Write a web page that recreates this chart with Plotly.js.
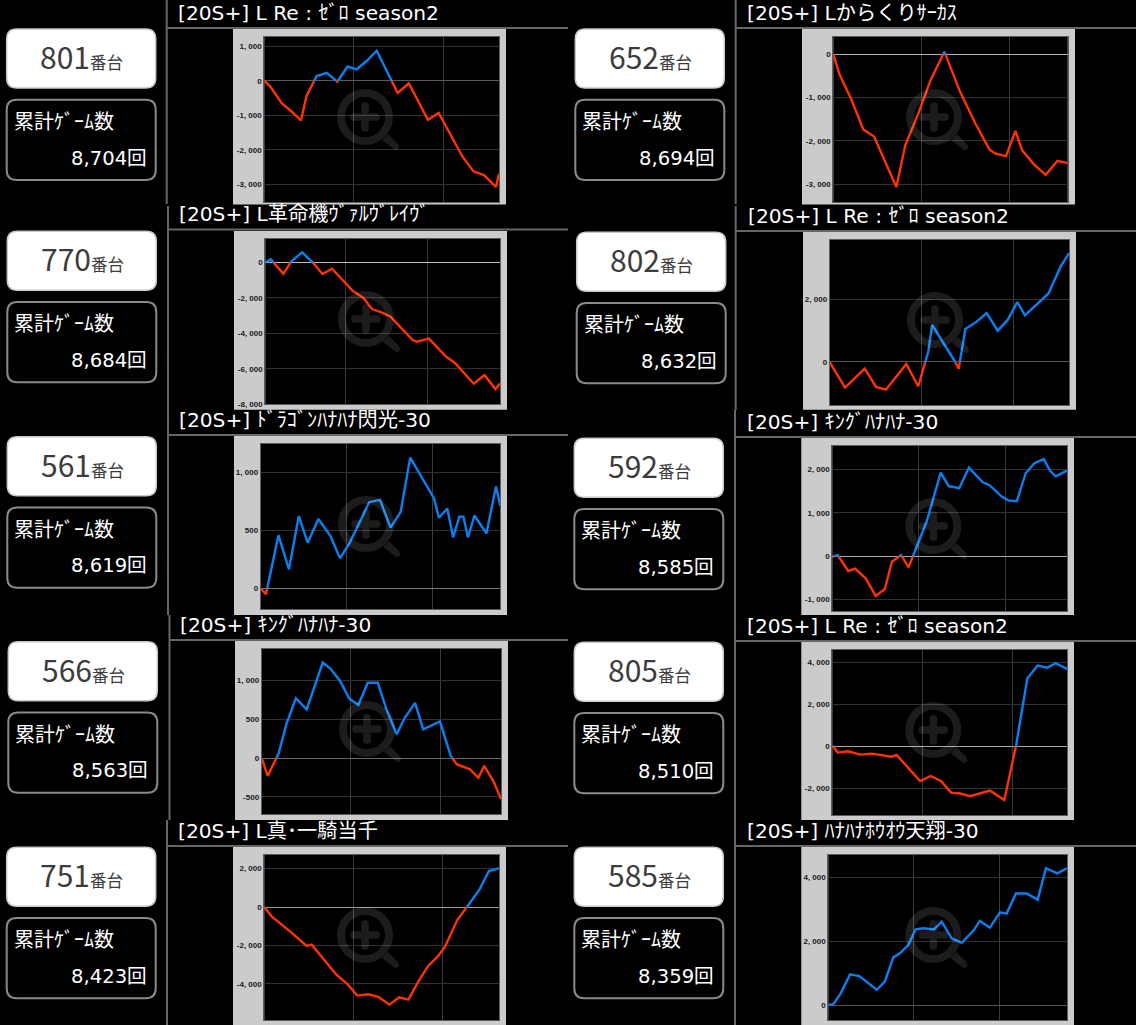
<!DOCTYPE html>
<html><head><meta charset="utf-8">
<script src="https://cdn.plot.ly/plotly-3.0.1.min.js"></script>
<style>html,body{margin:0;padding:0;background:#000;overflow:hidden}#c{width:1136px;height:1025px}</style>
</head><body><div id="c"></div>
<script>
const titles=["[20S+] L Re : ｾﾞﾛ season2","[20S+] Lからくりｻｰｶｽ","[20S+] L革命機ｳﾞｧﾙｳﾞﾚｲｳﾞ","[20S+] L Re : ｾﾞﾛ season2","[20S+] ﾄﾞﾗｺﾞﾝﾊﾅﾊﾅ閃光-30","[20S+] ｷﾝｸﾞﾊﾅﾊﾅ-30","[20S+] ｷﾝｸﾞﾊﾅﾊﾅ-30","[20S+] L Re : ｾﾞﾛ season2","[20S+] L真･一騎当千","[20S+] ﾊﾅﾊﾅﾎｳｵｳ天翔-30"];
const units=["801","652","770","802","561","592","566","805","751","585"];
const games=["8,704回","8,694回","8,684回","8,632回","8,619回","8,585回","8,563回","8,510回","8,423回","8,359回"];
const cardLabel="累計ｹﾞｰﾑ数", unitSuffix="番台";

// progress through the session (% of x axis) and cumulative difference
const x1=[0,2.8,7.4,11.6,15.6,18,22.3,26.6,31.1,35.5,39.3,43.6,47.9,56.8,61.6,69.7,74.3,84.4,89.1,93.6,98.7,100];
const y1=[0,-190,-650,-890,-1150,-440,135,230,-30,410,330,570,865,-350,-80,-1130,-930,-2190,-2620,-2730,-3070,-2690];
const x2=[0,2.6,7.8,12.8,17.4,26.9,30.7,36.3,41.5,47.4,54.1,60.6,66.6,69,73.7,77.7,80.5,85.6,90.6,95.6,100];
const y2=[0,-460,-1060,-1735,-1900,-3060,-2100,-1365,-600,55,-870,-1600,-2195,-2290,-2350,-1770,-2210,-2540,-2780,-2460,-2510];
const x3=[0,2.3,7.7,11.2,15.7,20.4,24.3,28.4,37.2,41.7,45.4,49.5,53.3,62.7,64.4,69.6,76.9,80.7,88.7,93.3,97.9,100];
const y3=[0,170,-640,75,560,-40,-660,-360,-1600,-2000,-2630,-2820,-3060,-4380,-4470,-4300,-5310,-5670,-6840,-6350,-7140,-6820];
const x4=[0,6.4,14.6,19.4,23.5,32,37,41.2,42.8,52.4,53.9,56.7,61.4,65.6,70.2,74.4,78.4,81.6,91.4,96.5,100];
const y4=[0,-825,-215,-800,-890,-65,-780,330,1190,10,-215,1060,1295,1570,1005,1350,1925,1500,2200,3060,3490];
const x5=[0,2.2,7.4,11.8,15.9,19.6,24.1,29.2,33.1,37.3,45.3,49.8,54.2,58.4,62.4,72.3,74.4,77.9,80.3,82.9,84.6,86.5,89.2,94.2,98.2,100];
const y5=[0,-50,460,165,625,395,600,450,260,400,745,765,525,660,1130,780,610,690,440,620,620,440,630,475,880,715];
const x6=[0,2.3,6.8,9.7,14.2,18.5,22.4,25.4,29.3,32.5,40.2,46.2,49.6,54.1,58.2,64.1,66.9,72.2,75,78.6,82.4,86.1,90.1,92.8,95.2,100];
const y6=[-10,25,-340,-285,-510,-915,-755,-125,25,-255,800,1930,1615,1570,2045,1705,1645,1375,1290,1270,1915,2145,2240,1970,1845,1975];
const x7=[0,2.5,7.1,10.4,14.3,18.8,25.5,28.6,32.7,36.6,40.4,44.3,48.5,52.2,56.4,59.9,64.1,67.5,74.5,79,81.5,87,90.5,93,97.1,100];
const y7=[0,-230,60,445,770,625,1230,1155,995,765,685,970,970,620,305,525,710,370,470,25,-80,-145,-255,-100,-315,-530];
const x8=[0,2.3,6.8,11.8,16.8,22.4,25.3,27.4,37.4,41.9,46.3,50.6,54.4,58.7,67.2,73.3,78.3,83.1,87.5,91.6,95.2,100];
const y8=[30,-300,-240,-400,-350,-460,-495,-415,-1660,-1420,-1660,-2215,-2260,-2390,-2120,-2565,30,3250,3860,3760,3970,3700];
const x9=[0,3.1,11.6,18,20.2,30.8,35.1,39.6,44.3,48.6,53.3,57.5,61.4,65.6,69.9,74.1,77,82.2,86.2,91.6,95.7,100];
const y9=[0,-485,-1335,-2025,-1955,-3530,-3965,-4605,-4535,-4675,-5075,-4690,-4815,-3880,-3050,-2545,-2060,-675,-20,885,1870,2010];
const x10=[0,2.1,5.2,9.1,13,20.3,23.7,27.2,30,33.5,36.6,39.8,44.3,47.5,51.7,55.9,61,63.5,67.7,71.9,74.7,78.6,83.1,87.7,91.2,95.9,100];
const y10=[0,30,365,965,910,480,735,1495,1625,1885,2375,2410,2375,2620,2095,1950,2355,2640,2430,2910,2870,3500,3500,3310,4295,4135,4295];

const xData=[x1,x2,x3,x4,x5,x6,x7,x8,x9,x10];
const yData=[y1,y2,y3,y4,y5,y6,y7,y8,y9,y10];

const yTicks=[[1000,0,-1000,-2000,-3000],[0,-1000,-2000,-3000],[0,-2000,-4000,-6000,-8000],[2000,0],[1000,500,0],[2000,1000,0,-1000],[1000,500,0,-500],[4000,2000,0,-2000],[2000,0,-2000,-4000],[4000,2000,0]];
const yLabels=[["1, 000","0","-1, 000","-2, 000","-3, 000"],["0","-1, 000","-2, 000","-3, 000"],["0","-2, 000","-4, 000","-6, 000","-8, 000"],["2, 000","0"],["1, 000","500","0"],["2, 000","1, 000","0","-1, 000"],["1, 000","500","0","-500"],["4, 000","2, 000","0","-2, 000"],["2, 000","0","-2, 000","-4, 000"],["4, 000","2, 000","0"]];
const yRanges=[[-3506,1272],[-3407,400],[-8000,1333],[-1390,3925],[-180,1250],[-1270,2550],[-725,1408],[-3300,4620],[-5890,2720],[-480,4720]];
const xGrid=[[38.1,76.3],[37.7,75.2],[34.2,68.9],[38.3,76.7],[35.9,71.6],[36.6,73.9],[37.2,74.8],[38.5,76.8],[37.9,76],[35.6,71.6]];
const zeroColors=["#5a5a5a","#b5b5b5","#bdbdbd","#555555","#7a7a7a","#a8a8a8","#666666","#a8a8a8","#999999","#555555"];

// page geometry (px): plot box, grey frame, card origin, rule and title positions
const plotBox=[[264.3,499,36.7,202],[833.3,1067.7,36.7,202],[265.3,500.3,238.7,404.3],[829.7,1069,239.7,405.3],[260.7,500.3,443.7,609.3],[832.3,1067,445.7,611.3],[261.7,501,648.7,814.3],[832.3,1067,649.7,815.3],[264.3,499,854.7,1020.3],[828.3,1067,854.7,1020.3]];
const frame=[[233,506,29,204.5],[802,1075,29,204.5],[234,507,231,409.7],[803,1076,232,409.7],[234,507,436,615],[801.3,1074,438,615],[235,508,641,820],[801.3,1074,642,820],[233,506,847,1025],[801.3,1074,847,1025]];
const cardAt=[[6.7,29],[575.3,29],[7.3,231.3],[576.7,232.3],[7.3,436.7],[574.3,438.3],[8.3,641.7],[574.3,642.3],[6.7,847.3],[574.3,847.3]];
const ruleY=[28,28,229.5,231,435,437,640,641,846,846];
const ruleX=[166.7,735.7,168,735.7,168,735,169.5,735,167,735];
const ruleTop=[0,0,206,206,410,410,615,615,820,820];
const ruleBot=[204,204,410,410,615,615,820,820,1025,1025];
const ruleEnd=[568,1136,568,1136,568,1136,568,1136,568,1136];
const titleX=[177,746,178,747,178,745.5,179,745.5,177,745.5];

const W=1136,H=1025;
const px=v=>v/W, py=v=>1-v/H;
const P=(x,y)=>px(x)+','+py(y);
function rounded(x0,y0,x1,y1,r){
  return 'M'+P(x0+r,y0)+' L'+P(x1-r,y0)+' Q'+P(x1,y0)+' '+P(x1,y0+r)+' L'+P(x1,y1-r)+' Q'+P(x1,y1)+' '+P(x1-r,y1)+' L'+P(x0+r,y1)+' Q'+P(x0,y1)+' '+P(x0,y1-r)+' L'+P(x0,y0+r)+' Q'+P(x0,y0)+' '+P(x0+r,y0)+' Z';
}
function splitBySign(xs,ys){
  const pos={x:[],y:[]},neg={x:[],y:[]};
  for(let i=0;i<xs.length;i++){
    if(i>0&&ys[i-1]*ys[i]<0){
      const xc=xs[i-1]+(xs[i]-xs[i-1])*(0-ys[i-1])/(ys[i]-ys[i-1]);
      const from=ys[i-1]>0?pos:neg,to=ys[i-1]>0?neg:pos;
      from.x.push(xc,null);from.y.push(0,null);
      to.x.push(xc);to.y.push(0);
    }
    const positive=ys[i]>0||(ys[i]===0&&ys[i+1]>0);
    const t=positive?pos:neg;
    t.x.push(xs[i]);t.y.push(ys[i]);
  }
  return [pos,neg];
}
const FONT='"Noto Sans CJK JP","Noto Sans",sans-serif';
const FONT2='"DejaVu Sans","Noto Sans CJK JP",sans-serif';
const traces=[],shapes=[],annotations=[];
const layout={width:W,height:H,margin:{l:0,r:0,t:0,b:0},paper_bgcolor:'#000',plot_bgcolor:'#000',showlegend:false,hovermode:false};
const ic='rgba(255,255,255,0.11)';

titles.forEach((t,i)=>{
  const n=i+1,xk='xaxis'+(n>1?n:''),yk='yaxis'+(n>1?n:''),xr='x'+(n>1?n:''),yr='y'+(n>1?n:'');
  const b=plotBox[i],f=frame[i],c=cardAt[i];
  layout[xk]={domain:[px(b[0]),px(b[1])],range:[0,100],anchor:yr,tickmode:'array',tickvals:xGrid[i],showticklabels:false,ticks:'',showgrid:true,gridcolor:'#3c3c3c',gridwidth:1,zeroline:false,showline:true,mirror:true,linecolor:'#5c5c5c',linewidth:1,fixedrange:true};
  layout[yk]={domain:[py(b[3]),py(b[2])],range:yRanges[i],anchor:xr,tickmode:'array',tickvals:yTicks[i],ticktext:yLabels[i],ticks:'',ticklen:0,showgrid:true,gridcolor:'#303030',gridwidth:1,zeroline:true,zerolinecolor:zeroColors[i],zerolinewidth:1,showline:true,mirror:true,linecolor:'#5c5c5c',linewidth:1,fixedrange:true,tickfont:{family:'"Liberation Sans",sans-serif',size:8,color:'#1a1a1a',weight:'bold'}};
  const [pos,neg]=splitBySign(xData[i],yData[i]);
  traces.push({x:neg.x,y:neg.y,xaxis:xr,yaxis:yr,mode:'lines',line:{color:'#ff3300',width:2.4},connectgaps:false,hoverinfo:'skip'});
  traces.push({x:pos.x,y:pos.y,xaxis:xr,yaxis:yr,mode:'lines',line:{color:'#0a80f0',width:2.4},connectgaps:false,hoverinfo:'skip'});

  shapes.push({type:'rect',xref:'paper',yref:'paper',x0:px(f[0]),x1:px(f[1]),y0:py(f[3]),y1:py(f[2]),fillcolor:'#cbcbcb',line:{width:0},layer:'below'});
  shapes.push({type:'rect',xref:'paper',yref:'paper',x0:px(b[0]),x1:px(b[1]),y0:py(b[3]),y1:py(b[2]),fillcolor:'#000',line:{width:0},layer:'below'});
  // rules
  shapes.push({type:'line',xref:'paper',yref:'paper',x0:px(ruleX[i]),x1:px(ruleEnd[i]),y0:py(ruleY[i]),y1:py(ruleY[i]),line:{color:'#666',width:2},layer:'below'});
  shapes.push({type:'line',xref:'paper',yref:'paper',x0:px(ruleX[i]),x1:px(ruleX[i]),y0:py(ruleTop[i]),y1:py(ruleBot[i]),line:{color:'#666',width:2},layer:'below'});
  // cards
  shapes.push({type:'path',xref:'paper',yref:'paper',path:rounded(c[0],c[1],c[0]+149,c[1]+59,10),fillcolor:'#fff',line:{color:'#c8c8c8',width:1.5},layer:'below'});
  shapes.push({type:'path',xref:'paper',yref:'paper',path:rounded(c[0],c[1]+70.7,c[0]+149,c[1]+151,10),fillcolor:'#000',line:{color:'#8a8a8a',width:2},layer:'below'});
  // magnifier watermark
  const mx=f[0]+132,my=f[2]+88;
  shapes.push({type:'circle',xref:'paper',yref:'paper',x0:px(mx-24),x1:px(mx+24),y0:py(my+24),y1:py(my-24),line:{color:ic,width:8},fillcolor:'rgba(0,0,0,0)',layer:'above'});
  const a=3.8,l=13,m=mx,k=my;
  const cross='M'+P(m-a,k-a)+' L'+P(m-a,k-l)+' Q'+P(m,k-l-a)+' '+P(m+a,k-l)+' L'+P(m+a,k-a)+' L'+P(m+l,k-a)+' Q'+P(m+l+a,k)+' '+P(m+l,k+a)+' L'+P(m+a,k+a)+' L'+P(m+a,k+l)+' Q'+P(m,k+l+a)+' '+P(m-a,k+l)+' L'+P(m-a,k+a)+' L'+P(m-l,k+a)+' Q'+P(m-l-a,k)+' '+P(m-l,k-a)+' Z';
  shapes.push({type:'path',xref:'paper',yref:'paper',path:cross,fillcolor:ic,line:{width:0},layer:'above'});
  const h='M'+P(m+17,k+23)+' L'+P(m+23,k+17)+' L'+P(m+33,k+27)+' Q'+P(m+36,k+33)+' '+P(m+30,k+33)+' Z';
  shapes.push({type:'path',xref:'paper',yref:'paper',path:h,fillcolor:ic,line:{width:0},layer:'above'});

  const ann=(text,x,y,anchor,size,color,fam)=>annotations.push({xref:'paper',yref:'paper',x:px(x),y:py(y),text,showarrow:false,xanchor:anchor,yanchor:'middle',borderpad:0,font:{family:fam,size,color},captureevents:false});
  ann(t,titleX[i],ruleY[i]-15,'left',20.2,'#fff',FONT2);
  ann(units[i]+'<span style="font-size:16.5px">'+unitSuffix+'</span>',c[0]+75,c[1]+27,'center',30,'#3c3c3c',FONT);
  ann(cardLabel,c[0]+6,c[1]+93,'left',20,'#fff',FONT2);
  ann(games[i],c[0]+141,c[1]+129,'right',19.6,'#fff',FONT2);
});
layout.shapes=shapes;layout.annotations=annotations;
Plotly.newPlot('c',traces,layout,{staticPlot:true,displayModeBar:false,responsive:false});
</script></body></html>
